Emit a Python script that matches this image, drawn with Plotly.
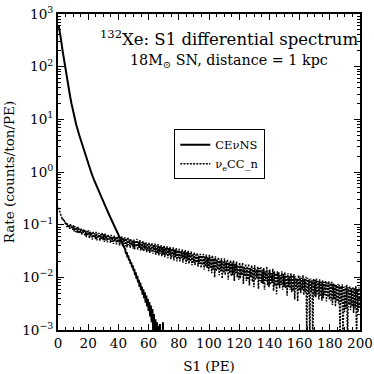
import plotly.graph_objects as go

# ---------------- data ----------------
cevns_s1 = [0.5, 1, 1.5, 2, 3, 4, 5, 6, 7, 8, 9, 10, 11, 12, 14, 16, 18, 20, 22, 24,
            26, 28, 30, 32, 34, 36, 38, 40, 42, 44,
            44.5, 45, 45.5, 46, 46.5, 47, 47.5, 48, 48.5, 49, 49.5, 50, 50.5, 51, 51.5,
            52, 52.5, 53, 53.5, 54, 54.5, 55, 55.5, 56, 56.5, 57, 57.5, 58, 58.5, 59,
            59.5, 60, 60.5, 61, 61.5, 62, 62.5, 63, 63.5, 64, 64.5, 65, 65.5, 66, 66.5,
            67, 67.5, 68, 68.5, 69, 69.5, 70, 70.5, 71, 71.5, 72]
cevns_rate = [603, 513, 407, 324, 204, 132, 87, 59, 40, 27.5, 19.5, 14.1, 10.5, 8.1, 5.1, 3.3,
              2.19, 1.45, 0.98, 0.69, 0.5, 0.37, 0.275, 0.204, 0.151, 0.112, 0.083, 0.062,
              0.046, 0.035,
              0.034, 0.028, 0.030, 0.024, 0.026, 0.021, 0.022, 0.018, 0.0195, 0.0155, 0.0168,
              0.0132, 0.0145, 0.011, 0.0124, 0.0093, 0.0107, 0.008, 0.009, 0.0066, 0.0079,
              0.0057, 0.0067, 0.0047, 0.0059, 0.004, 0.0052, 0.0033, 0.0045, 0.0028, 0.0039,
              0.0023, 0.0034, 0.0018, 0.0029, 0.0014, 0.0025, 0.001, 0.002, 0.0008, 0.0016,
              0.0006, 0.0014, 0.0004, 0.0012, 0.0003, 0.0013, 0.0002, 0.0009, 0.0001, 0.0014,
              0.0001, 0.0006, 0.0001, 0.0001, 0.0001]

nue_s1 = [0.25 + 0.5 * i for i in range(400)]   # bin centres, 0.5 PE bins
nue_rate = [
    0.21, 0.19, 0.175, 0.155, 0.15, 0.13, 0.132, 0.115, 0.118, 0.104,
    0.112, 0.09, 0.106, 0.088, 0.1, 0.083, 0.104, 0.086, 0.095, 0.08,
    0.098, 0.074, 0.094, 0.072, 0.09, 0.07, 0.092, 0.068, 0.084, 0.071,
    0.085, 0.064, 0.08, 0.07, 0.082, 0.061, 0.077, 0.058, 0.076, 0.063,
    0.078, 0.055, 0.074, 0.06, 0.072, 0.052, 0.075, 0.057, 0.069, 0.053,
    0.073, 0.05, 0.068, 0.056, 0.07, 0.049, 0.066, 0.053, 0.071, 0.051,
    0.066, 0.047, 0.068, 0.05, 0.063, 0.046, 0.065, 0.052, 0.061, 0.045,
    0.064, 0.047, 0.059, 0.043, 0.062, 0.049, 0.058, 0.042, 0.06, 0.046,
    0.062, 0.04, 0.057, 0.044, 0.06, 0.038, 0.055, 0.043, 0.058, 0.039,
    0.055, 0.037, 0.058, 0.041, 0.053, 0.036, 0.054, 0.04, 0.05, 0.035,
    0.052, 0.034, 0.05, 0.038, 0.054, 0.033, 0.048, 0.036, 0.051, 0.032,
    0.047, 0.033, 0.049, 0.031, 0.045, 0.034, 0.047, 0.03, 0.044, 0.032,
    0.046, 0.029, 0.043, 0.031, 0.045, 0.028, 0.041, 0.03, 0.044, 0.027,
    0.04, 0.029, 0.043, 0.026, 0.039, 0.028, 0.041, 0.025, 0.038, 0.027,
    0.04, 0.024, 0.037, 0.027, 0.039, 0.023, 0.036, 0.026, 0.038, 0.022,
    0.035, 0.025, 0.037, 0.021, 0.034, 0.024, 0.036, 0.02, 0.033, 0.023,
    0.035, 0.02, 0.032, 0.023, 0.034, 0.019, 0.031, 0.022, 0.033, 0.018,
    0.03, 0.021, 0.032, 0.018, 0.029, 0.02, 0.031, 0.017, 0.028, 0.019,
    0.03, 0.017, 0.027, 0.019, 0.029, 0.016, 0.026, 0.018, 0.028, 0.015,
    0.026, 0.017, 0.028, 0.014, 0.025, 0.016, 0.027, 0.015, 0.024, 0.013,
    0.027, 0.015, 0.024, 0.012, 0.026, 0.014, 0.023, 0.01, 0.025, 0.013,
    0.022, 0.014, 0.024, 0.011, 0.021, 0.013, 0.023, 0.0095, 0.02, 0.012,
    0.023, 0.011, 0.02, 0.013, 0.022, 0.009, 0.019, 0.012, 0.021, 0.0105,
    0.019, 0.011, 0.021, 0.0085, 0.018, 0.012, 0.02, 0.01, 0.017, 0.009,
    0.019, 0.0095, 0.017, 0.011, 0.019, 0.0075, 0.016, 0.0105, 0.018, 0.0085,
    0.016, 0.009, 0.018, 0.007, 0.015, 0.01, 0.017, 0.0082, 0.015, 0.0065,
    0.017, 0.0088, 0.014, 0.0095, 0.016, 0.006, 0.015, 0.0085, 0.016, 0.0078,
    0.014, 0.0075, 0.015, 0.0058, 0.013, 0.0085, 0.016, 0.007, 0.0135, 0.0065,
    0.014, 0.0072, 0.012, 0.0078, 0.0145, 0.0055, 0.013, 0.0068, 0.012, 0.0048,
    0.013, 0.007, 0.0125, 0.0062, 0.011, 0.0072, 0.013, 0.0058, 0.0115, 0.0066,
    0.0125, 0.0062, 0.011, 0.0045, 0.012, 0.0065, 0.0105, 0.0058, 0.012, 0.0052,
    0.011, 0.0055, 0.0115, 0.0038, 0.0105, 0.006, 0.0095, 0.0035, 0.011, 0.0056,
    0.0105, 0.005, 0.0098, 0.0058, 0.011, 0.0046, 0.0095, 0.0052, 0.0102, 0.0008,
    0.0098, 0.0048, 0.0092, 0.0006, 0.0095, 0.0052, 0.0088, 0.0005, 0.0094, 0.0045,
    0.009, 0.0042, 0.0095, 0.0048, 0.0085, 0.0038, 0.0092, 0.0044, 0.0082, 0.0036,
    0.0088, 0.004, 0.0082, 0.0046, 0.0086, 0.0035, 0.008, 0.0042, 0.0085, 0.0038,
    0.0078, 0.0036, 0.0082, 0.003, 0.0076, 0.0038, 0.0075, 0.0028, 0.0072, 0.0035,
    0.0075, 0.0032, 0.0072, 0.0005, 0.0068, 0.0034, 0.0074, 0.0004, 0.0066, 0.0022,
    0.0068, 0.0025, 0.0072, 0.0005, 0.0065, 0.003, 0.0068, 0.0024, 0.0062, 0.0028,
    0.0066, 0.0021, 0.0063, 0.0026, 0.0068, 0.0005, 0.006, 0.0022, 0.0064, 0.0025,
]

x_tick_vals = [0, 20, 40, 60, 80, 100, 120, 140, 160, 180, 200]
x_tick_text = ["0", "20", "40", "60", "80", "100", "120", "140", "160", "180", "200"]
y_tick_vals = [1e-3, 1e-2, 1e-1, 1e0, 1e1, 1e2, 1e3]
y_tick_text = ["10<sup>−3</sup>", "10<sup>−2</sup>", "10<sup>−1</sup>", "10<sup>0</sup>",
               "10<sup>1</sup>", "10<sup>2</sup>", "10<sup>3</sup>"]
y_minor_vals = [m * 10.0 ** e for e in range(-3, 3) for m in range(2, 10)]

FONT = "DejaVu Serif"

fig = go.Figure()
fig.add_trace(go.Scatter(x=cevns_s1, y=cevns_rate, mode="lines", name="CEνNS",
                         line=dict(color="black", width=2)))
fig.add_trace(go.Scatter(x=nue_s1, y=nue_rate, mode="lines", name="ν<sub>e</sub>CC_n",
                         line=dict(color="black", width=1.5, dash="2px,1.2px")))

axis_common = dict(showline=True, linecolor="black", linewidth=2, mirror="allticks",
                   ticks="inside", ticklen=6, tickwidth=1, tickcolor="black",
                   showgrid=False, zeroline=False, automargin=False,
                   ticklabeloverflow="allow",
                   tickfont=dict(family=FONT, size=13.5, color="black"))

fig.update_layout(
    width=374, height=374,
    margin=dict(l=58, r=14, t=14, b=44),
    paper_bgcolor="white", plot_bgcolor="white",
    font=dict(family=FONT, color="black"),
    showlegend=True,
    legend=dict(x=0.385, y=0.635, xanchor="left", yanchor="top",
                bordercolor="black", borderwidth=1, bgcolor="white",
                font=dict(family=FONT, size=11.5, color="black"),
                tracegroupgap=0, itemwidth=30, entrywidth=90, entrywidthmode="pixels"),
    xaxis=dict(range=[0, 200], tickmode="array", tickvals=x_tick_vals, ticktext=x_tick_text,
               minor=dict(ticks="inside", ticklen=3, tickwidth=1, tickcolor="black", dtick=5, tick0=0),
               title=dict(text="S1 (PE)", font=dict(family=FONT, size=13.5), standoff=13),
               **axis_common),
    yaxis=dict(type="log", range=[-3, 3], tickmode="array", tickvals=y_tick_vals, ticktext=y_tick_text,
               minor=dict(ticks="inside", ticklen=3, tickwidth=1, tickcolor="black",
                          tickmode="array", tickvals=y_minor_vals),
               title=dict(text="Rate (counts/ton/PE)", font=dict(family=FONT, size=13.5), standoff=4),
               **axis_common),
    annotations=[
        dict(xref="paper", yref="paper", x=0.566, y=0.924, showarrow=False,
             text="<sup>132</sup>Xe: S1 differential spectrum",
             font=dict(family=FONT, size=16.5, color="black"), xanchor="center", yanchor="middle"),
        dict(xref="paper", yref="paper", x=0.566, y=0.851, showarrow=False,
             text="18M<sub>⊙</sub> SN, distance = 1 kpc",
             font=dict(family=FONT, size=14.3, color="black"), xanchor="center", yanchor="middle"),
    ],
)

# the page body has a default 8 px margin; remove it so the 374 px figure fills the window
fig.write_html("out.html", config={"displayModeBar": False},
               post_script="document.body.style.margin='0px';")
